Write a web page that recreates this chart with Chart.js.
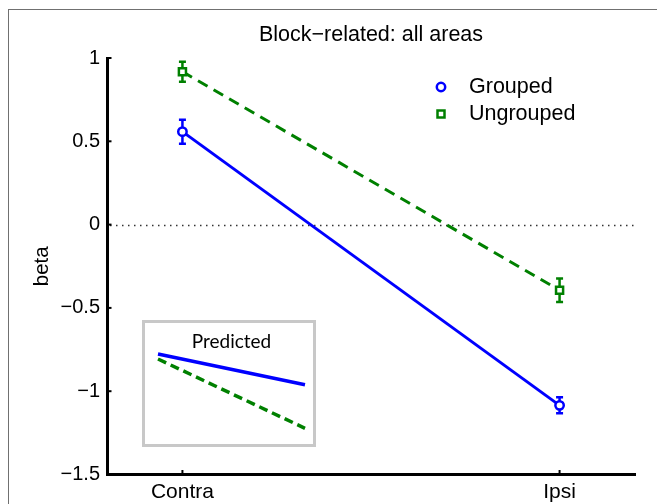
<!DOCTYPE html>
<html><head><meta charset="utf-8">
<script src="https://cdn.jsdelivr.net/npm/chart.js@4"></script>
<style>
html,body{margin:0;padding:0;background:#fff;overflow:hidden;}
#wrap{position:relative;width:657px;height:504px;overflow:hidden;background:#fff;}
#frame{position:absolute;left:8px;top:9px;width:700px;height:600px;border-top:1.5px solid #707070;border-left:1.5px solid #707070;box-sizing:border-box;}
#main{position:absolute;left:0;top:0;}
#inset{position:absolute;left:142px;top:320px;width:174px;height:127px;border:3px solid #c8c8c8;box-sizing:border-box;background:#fff;}
#insetCanvas{position:absolute;left:0;top:0;}
</style></head>
<body>
<div id="wrap">
  <div id="frame"></div>
  <canvas id="main" width="657" height="504"></canvas>
  <div id="inset"><canvas id="insetCanvas" width="168" height="121"></canvas></div>
</div>
<script>
// ---- data ----
const categories = ['Contra', 'Ipsi'];
const xPositions = [1, 2];
const groupedBeta = [0.558, -1.085];
const groupedErr = [0.072, 0.048];
const ungroupedBeta = [0.918, -0.394];
const ungroupedErr = [0.06, 0.07];
const yTickValues = [-1.5, -1, -0.5, 0, 0.5, 1];
const seriesNames = ['Grouped', 'Ungrouped'];
const titleText = 'Block\u2212related: all areas';
const yAxisTitle = 'beta';

const predictedX = [0, 1];
const predictedGrouped = [0, -0.29];
const predictedUngrouped = [-0.047, -0.7];
const insetTitle = 'Predicted';

const BLUE = '#0000ff', GREEN = '#008000';
const HFONT = '"Liberation Sans", Arial, Helvetica, sans-serif';

function pts(xs, ys){ return xs.map((x,i)=>({x:x, y:ys[i]})); }
function fmt(v){ return String(v).replace('-', '\u2212'); }

const errorBarPlugin = {
  id: 'errorBars',
  beforeDatasetsDraw(chart){
    const ctx = chart.ctx, xs = chart.scales.x, ys = chart.scales.y;
    const sets = [[groupedBeta, groupedErr, BLUE],[ungroupedBeta, ungroupedErr, GREEN]];
    ctx.save();
    ctx.lineWidth = 2.5;
    sets.forEach(([vals, errs, col]) => {
      ctx.strokeStyle = col;
      vals.forEach((v,i)=>{
        const px = xs.getPixelForValue(xPositions[i]);
        const top = ys.getPixelForValue(v + errs[i]);
        const bot = ys.getPixelForValue(v - errs[i]);
        ctx.beginPath();
        ctx.moveTo(px, top); ctx.lineTo(px, bot);
        ctx.moveTo(px-3.5, top); ctx.lineTo(px+3.5, top);
        ctx.moveTo(px-3.5, bot); ctx.lineTo(px+3.5, bot);
        ctx.stroke();
      });
    });
    ctx.restore();
  }
};

const decorPlugin = {
  id: 'decor',
  beforeDatasetsDraw(chart){
    const ctx = chart.ctx, a = chart.chartArea, ys = chart.scales.y;
    const y0 = ys.getPixelForValue(0);
    ctx.save();
    ctx.strokeStyle = '#333';
    ctx.lineWidth = 1.3;
    ctx.setLineDash([1.5, 4.5]);
    ctx.beginPath();
    ctx.moveTo(a.left + 3, Math.round(y0)+0.5);
    ctx.lineTo(a.right, Math.round(y0)+0.5);
    ctx.stroke();
    ctx.restore();
  },
  afterDraw(chart){
    const ctx = chart.ctx, a = chart.chartArea, xs = chart.scales.x, ys = chart.scales.y;
    ctx.save();
    // inward ticks
    ctx.strokeStyle = '#000';
    ctx.lineWidth = 2;
    ys.ticks.forEach(t=>{
      const py = ys.getPixelForValue(t.value);
      ctx.beginPath(); ctx.moveTo(a.left, py); ctx.lineTo(a.left+4.5, py); ctx.stroke();
    });
    xs.ticks.forEach(t=>{
      const px = xs.getPixelForValue(t.value);
      ctx.beginPath(); ctx.moveTo(px, a.bottom); ctx.lineTo(px, a.bottom-4.5); ctx.stroke();
    });
    // title
    ctx.fillStyle = '#000';
    ctx.font = '21.5px ' + HFONT;
    ctx.textAlign = 'center';
    ctx.textBaseline = 'middle';
    ctx.fillText(titleText, (a.left + a.right)/2, 35);
    // legend
    const lx = 441, ly = [87, 114], tx = 469;
    ctx.lineWidth = 2.5;
    ctx.strokeStyle = BLUE; ctx.fillStyle = '#fff';
    ctx.beginPath(); ctx.arc(lx, ly[0], 4.2, 0, Math.PI*2); ctx.fill(); ctx.stroke();
    ctx.strokeStyle = GREEN;
    ctx.beginPath(); ctx.rect(lx-3.5, ly[1]-3.5, 7, 7); ctx.fill(); ctx.stroke();
    ctx.fillStyle = '#000';
    ctx.textAlign = 'left';
    ctx.fillText(seriesNames[0], tx, ly[0]);
    ctx.fillText(seriesNames[1], tx, ly[1]);
    ctx.restore();
  }
};

new Chart(document.getElementById('main'), {
  type: 'line',
  data: {
    datasets: [
      {
        label: seriesNames[0],
        data: pts(xPositions, groupedBeta),
        borderColor: BLUE, backgroundColor: '#fff',
        borderWidth: 3,
        pointStyle: 'circle', pointRadius: 4.2, pointBorderWidth: 2.5,
        pointBorderColor: BLUE, pointBackgroundColor: '#fff',
        tension: 0
      },
      {
        label: seriesNames[1],
        data: pts(xPositions, ungroupedBeta),
        borderColor: GREEN, backgroundColor: '#fff',
        borderWidth: 3, borderDash: [11, 7],
        pointStyle: 'rect', pointRadius: 5, pointBorderWidth: 2.5,
        pointBorderColor: GREEN, pointBackgroundColor: '#fff',
        tension: 0
      }
    ]
  },
  options: {
    responsive: false,
    animation: false,
    events: [],
    layout: { padding: { left: 30, right: 22, top: 58, bottom: 0 } },
    plugins: { legend: { display: false }, tooltip: { enabled: false }, title: { display: false } },
    scales: {
      x: {
        type: 'linear', min: 0.8, max: 2.2,
        afterBuildTicks: s => { s.ticks = xPositions.map(v => ({ value: v })); },
        afterFit: s => { s.height = 29.5; },
        ticks: {
          callback: v => categories[xPositions.indexOf(v)],
          font: { family: HFONT, size: 21 }, color: '#000',
          padding: 5, maxRotation: 0, autoSkip: false
        },
        grid: { display: false, drawTicks: false },
        border: { display: true, color: '#000', width: 3 }
      },
      y: {
        type: 'linear', min: -1.5, max: 1,
        afterBuildTicks: s => { s.ticks = yTickValues.map(v => ({ value: v })); },
        afterFit: s => { s.width = 107 - 30; },
        ticks: {
          callback: v => fmt(v),
          font: { family: HFONT, size: 20 }, color: '#000',
          padding: 7
        },
        title: { display: true, text: yAxisTitle, color: '#000', font: { family: HFONT, size: 20.5 }, padding: 0 },
        grid: { display: false, drawTicks: false },
        border: { display: true, color: '#000', width: 3 }
      }
    }
  },
  plugins: [errorBarPlugin, decorPlugin]
});

new Chart(document.getElementById('insetCanvas'), {
  type: 'line',
  data: {
    datasets: [
      { data: pts(predictedX, predictedGrouped), borderColor: BLUE, borderWidth: 3.5, pointRadius: 0, clip: false, tension: 0 },
      { data: pts(predictedX, predictedUngrouped), borderColor: GREEN, borderWidth: 3.5, borderDash: [9, 5], pointRadius: 0, clip: false, tension: 0 }
    ]
  },
  options: {
    responsive: false, animation: false, events: [],
    layout: { padding: { left: 13, right: 8, top: 0, bottom: 15.7 } },
    plugins: {
      legend: { display: false }, tooltip: { enabled: false },
      title: { display: true, text: insetTitle, color: '#000', font: { family: 'Lato, "Open Sans", sans-serif', size: 19, weight: 'normal' }, padding: { top: 7.5, bottom: 0.7 } }
    },
    scales: {
      x: { type: 'linear', min: 0, max: 1, display: false },
      y: { type: 'linear', min: -0.7, max: 0, display: false }
    }
  }
});
</script>
</body></html>
